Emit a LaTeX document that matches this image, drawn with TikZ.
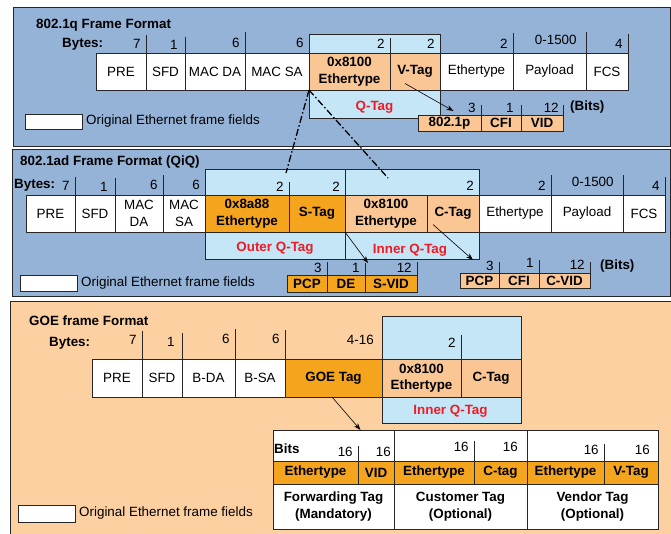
\documentclass[tikz,border=0pt]{standalone}
\usepackage{fontspec}
\setmainfont{Liberation Sans}
\usepackage{tikz}
\usetikzlibrary{arrows.meta, positioning}
\definecolor{pblue}{RGB}{149,179,215}
\definecolor{ppeach}{RGB}{252,208,160}
\definecolor{tagblue}{RGB}{197,230,247}
\definecolor{lorange}{RGB}{250,199,148}
\definecolor{dorange}{RGB}{244,164,29}
\definecolor{qred}{RGB}{237,28,36}
\newcommand{\figfont}{\fontsize{13.4}{16.5}\selectfont}

\begin{document}
\begin{tikzpicture}[x=1pt, y=-1pt,
  panel/.style={draw=black!85, line width=0.8pt},
  fld/.style={
    draw=black!85, line width=0.7pt, fill=white,
    minimum height=37pt, inner sep=0pt, outer sep=0pt,
    font=\figfont, align=center
  },
  bfld/.style={fld, font=\figfont\bfseries},
  lt/.style={bfld, fill=lorange},
  dk/.style={bfld, fill=dorange},
  qbox/.style={draw=black!85, line width=0.7pt, fill=tagblue,
    inner sep=0pt, outer sep=0pt, anchor=north west},
  qlab/.style={font=\figfont\bfseries, text=qred},
  num/.style={font=\figfont, anchor=east, inner xsep=5pt, inner ysep=2pt},
  tick/.style={draw=black!85, line width=0.7pt},
  ttl/.style={font=\figfont\bfseries, anchor=west, inner sep=0pt},
  legbox/.style={fld, minimum width=57pt, minimum height=16pt, anchor=north west},
  legtxt/.style={font=\figfont, inner sep=1pt, right=3pt of #1},
  arr/.style={-{Stealth[length=7pt, width=5pt]}, line width=0.6pt},
  dd/.style={line width=1.3pt, dash pattern=on 7pt off 2.5pt on 1.5pt off 2.5pt}
]
  \useasboundingbox (0,0) rectangle (671,533);

  % panels
  \filldraw[panel, fill=pblue] (13,7) rectangle (670,146);
  \filldraw[panel, fill=pblue] (12,149) rectangle (670,296);
  \filldraw[panel, fill=ppeach] (10,301) rectangle (673,536);

  %% 802.1q
  \node[ttl] (t1) at (36,25) {802.1q Frame Format};
  \node[ttl] (b1) at (62,44) {Bytes:};
  \node[qbox, minimum width=131pt, minimum height=84pt] (qb1) at (309,34) {};
  \node[qlab] (ql1) at ([shift={(0,-11)}]qb1.south) {Q-Tag};

  \node[fld, anchor=north west, minimum width=50pt] (pre1) at (96,53) {PRE};
  \node[fld, minimum width=39pt, right=0pt of pre1] (sfd1) {SFD};
  \node[fld, minimum width=60pt, right=0pt of sfd1] (mda1) {MAC DA};
  \node[fld, minimum width=64pt, right=0pt of mda1] (msa1) {MAC SA};
  \node[lt, minimum width=81pt, right=0pt of msa1] (qet1) {0x8100\\Ethertype};
  \node[lt, minimum width=50pt, right=0pt of qet1] (vtag1) {V-Tag};
  \node[fld, minimum width=73pt, right=0pt of vtag1] (et1) {Ethertype};
  \node[fld, minimum width=73pt, right=0pt of et1] (pay1) {Payload};
  \node[fld, minimum width=42pt, right=0pt of pay1] (fcs1) {FCS};

  \draw[tick] (pre1.north east) -- ++(0,-18) node[num] at ([shift={(0,-9)}]pre1.north east) {7};
  \draw[tick] (sfd1.north east) -- ++(0,-16) node[num] at ([shift={(-2,-8)}]sfd1.north east) {1};
  \draw[tick] (mda1.north east) -- ++(0,-21) node[num] at ([shift={(0,-10)}]mda1.north east) {6};
  \draw[tick] (msa1.north east) -- ++(0,-19) node[num] at ([shift={(0,-10)}]msa1.north east) {6};
  \draw[tick] (qet1.north east) -- ++(0,-15) node[num] at ([shift={(0,-9)}]qet1.north east) {2};
  \draw[tick] (vtag1.north east) -- ++(0,-19) node[num] at ([shift={(0,-9)}]vtag1.north east) {2};
  \draw[tick] (et1.north east) -- ++(0,-20) node[num] at ([shift={(0,-9)}]et1.north east) {2};
  \draw[tick] (pay1.north east) -- ++(0,-21) node[num] at ([shift={(-4,-13)}]pay1.north east) {0-1500};
  \draw[tick] (fcs1.north east) -- ++(0,-19) node[num] at ([shift={(0,-9)}]fcs1.north east) {4};

  \node[lt, anchor=north west, minimum width=63pt, minimum height=16pt] (pri1) at (418,115) {802.1p};
  \node[lt, minimum width=40pt, minimum height=16pt, right=0pt of pri1] (cfi1) {CFI};
  \node[lt, minimum width=42pt, minimum height=16pt, right=0pt of cfi1] (vid1) {VID};
  \draw[tick] (pri1.north east) -- ++(0,-10) node[num] at ([shift={(0,-7)}]pri1.north east) {3};
  \draw[tick] (cfi1.north east) -- ++(0,-10) node[num] at ([shift={(-2,-7)}]cfi1.north east) {1};
  \draw[tick] (vid1.north east) -- ++(0,-10) node[num] at ([shift={(1,-7)}]vid1.north east) {12};
  \node[ttl] (bu1) at ([shift={(7,-8)}]vid1.north east) {(Bits)};

  \draw[arr] ([shift={(-10,12)}]vtag1.center) -- ([shift={(4,-4)}]pri1.north);

  \node[legbox, minimum height=15pt] (leg1) at (25,114) {};
  \node[legtxt=leg1] (lt1) {Original Ethernet frame fields};

  %% 802.1ad
  \node[ttl] (t2) at (20,162) {802.1ad Frame Format (QiQ)};
  \node[ttl] (b2) at (14,185) {Bytes:};
  \node[qbox, minimum width=140pt, minimum height=90pt] (oq2) at (205,169) {};
  \node[qbox, minimum width=134pt, minimum height=90pt] (iq2) at (345,169) {};
  \node[qlab] (oql2) at ([shift={(0,-11)}]oq2.south) {Outer Q-Tag};
  \node[qlab] (iql2) at ([shift={(-2,-9)}]iq2.south) {Inner Q-Tag};

  \node[fld, anchor=north west, minimum width=49pt] (pre2) at (26,195) {PRE};
  \node[fld, minimum width=40pt, right=0pt of pre2] (sfd2) {SFD};
  \node[fld, minimum width=48pt, right=0pt of sfd2] (mda2) {MAC\\DA};
  \node[fld, minimum width=42pt, right=0pt of mda2] (msa2) {MAC\\SA};
  \node[dk, minimum width=84pt, right=0pt of msa2] (set2) {0x8a88\\Ethertype};
  \node[dk, minimum width=56pt, right=0pt of set2] (stag2) {S-Tag};
  \node[lt, minimum width=82pt, right=0pt of stag2] (cet2) {0x8100\\Ethertype};
  \node[lt, minimum width=52pt, right=0pt of cet2] (ctag2) {C-Tag};
  \node[fld, minimum width=72pt, right=0pt of ctag2] (et2) {Ethertype};
  \node[fld, minimum width=72pt, right=0pt of et2] (pay2) {Payload};
  \node[fld, minimum width=42pt, right=0pt of pay2] (fcs2) {FCS};

  \draw[tick] (pre2.north east) -- ++(0,-18) node[num] at ([shift={(0,-9)}]pre2.north east) {7};
  \draw[tick] (sfd2.north east) -- ++(0,-17) node[num] at ([shift={(-2,-8)}]sfd2.north east) {1};
  \draw[tick] (mda2.north east) -- ++(0,-20) node[num] at ([shift={(0,-10)}]mda2.north east) {6};
  \node[num] (n6b) at ([shift={(0,-10)}]msa2.north east) {6};
  \draw[tick] (set2.north east) -- ++(0,-13) node[num] at ([shift={(0,-8)}]set2.north east) {2};
  \node[num] (n2s) at ([shift={(0,-8)}]stag2.north east) {2};
  \node[num] (n2c) at ([shift={(0,-9)}]ctag2.north east) {2};
  \draw[tick] (et2.north east) -- ++(0,-20) node[num] at ([shift={(0,-9)}]et2.north east) {2};
  \draw[tick] (pay2.north east) -- ++(0,-20) node[num] at ([shift={(-4,-13)}]pay2.north east) {0-1500};
  \draw[tick] (fcs2.north east) -- ++(0,-18) node[num] at ([shift={(0,-9)}]fcs2.north east) {4};

  \node[dk, anchor=north west, minimum width=40pt, minimum height=17pt] (spcp2) at (287,275) {PCP};
  \node[dk, minimum width=38pt, minimum height=17pt, right=0pt of spcp2] (sde2) {DE};
  \node[dk, minimum width=52pt, minimum height=17pt, right=0pt of sde2] (svid2) {S-VID};
  \draw[tick] (spcp2.north east) -- ++(0,-13) node[num] at ([shift={(0,-7)}]spcp2.north east) {3};
  \draw[tick] (sde2.north east) -- ++(0,-12) node[num] at ([shift={(0,-7)}]sde2.north east) {1};
  \draw[tick] (svid2.north east) -- ++(0,-13) node[num] at ([shift={(0,-7)}]svid2.north east) {12};

  \node[lt, anchor=north west, minimum width=39pt, minimum height=15pt] (cpcp2) at (460,273) {PCP};
  \node[lt, minimum width=40pt, minimum height=15pt, right=0pt of cpcp2] (ccfi2) {CFI};
  \node[lt, minimum width=51pt, minimum height=15pt, right=0pt of ccfi2] (cvid2) {C-VID};
  \draw[tick] (cpcp2.north east) -- ++(0,-11) node[num] at ([shift={(0,-7)}]cpcp2.north east) {3};
  \draw[tick] (ccfi2.north east) -- ++(0,-13) node[num] at ([shift={(0,-10)}]ccfi2.north east) {1};
  \draw[tick] (cvid2.north east) -- ++(0,-11) node[num] at ([shift={(0,-8)}]cvid2.north east) {12};
  \node[ttl] (bu2) at ([shift={(10,-7)}]cvid2.north east) {(Bits)};

  \draw[arr] (stag2.south east) -- ([shift={(3,-12)}]svid2.north west);
  \draw[arr] ([shift={(-20,11)}]ctag2.center) -- ([shift={(-26,-13)}]cpcp2.north east);

  \node[legbox] (leg2) at (20,275) {};
  \node[legtxt=leg2] (lt2) {Original Ethernet frame fields};

  %% GOE
  \node[ttl] (t3) at (29,321) {GOE frame Format};
  \node[ttl] (b3) at (49,343) {Bytes:};
  \node[qbox, minimum width=139pt, minimum height=107pt] (iq3) at (382,316) {};
  \node[qlab] (iql3) at ([shift={(-1,-12)}]iq3.south) {Inner Q-Tag};

  \node[fld, anchor=north west, minimum width=50pt, minimum height=38pt] (pre3) at (92,359) {PRE};
  \node[fld, minimum width=40pt, minimum height=38pt, right=0pt of pre3] (sfd3) {SFD};
  \node[fld, minimum width=53pt, minimum height=38pt, right=0pt of sfd3] (bda3) {B-DA};
  \node[fld, minimum width=50pt, minimum height=38pt, right=0pt of bda3] (bsa3) {B-SA};
  \node[dk, minimum width=97pt, minimum height=38pt, right=0pt of bsa3] (goe3) {GOE Tag};
  \node[lt, minimum width=79pt, minimum height=38pt, right=0pt of goe3] (cet3) {0x8100\\Ethertype};
  \node[lt, minimum width=60pt, minimum height=38pt, right=0pt of cet3] (ctag3) {C-Tag};

  \draw[tick] (pre3.north east) -- ++(0,-28) node[num] at ([shift={(0,-19)}]pre3.north east) {7};
  \draw[tick] (sfd3.north east) -- ++(0,-26) node[num] at ([shift={(-2,-17)}]sfd3.north east) {1};
  \draw[tick] (bda3.north east) -- ++(0,-30) node[num] at ([shift={(0,-20)}]bda3.north east) {6};
  \draw[tick] (bsa3.north east) -- ++(0,-29) node[num] at ([shift={(0,-20)}]bsa3.north east) {6};
  \node[num] (n416) at ([shift={(-3,-19)}]goe3.north east) {4-16};
  \draw[tick] (cet3.north east) -- ++(0,-24) node[num] at ([shift={(0,-16)}]cet3.north east) {2};

  % GOE tag table
  \node[fld, anchor=north west, minimum width=121pt, minimum height=31pt] (fhd) at (273,430) {};
  \node[fld, minimum width=133pt, minimum height=31pt, right=0pt of fhd] (chd) {};
  \node[fld, minimum width=131pt, minimum height=31pt, right=0pt of chd] (vhd) {};
  \node[dk, anchor=north west, minimum width=85pt, minimum height=23pt] (fet) at (fhd.south west) {Ethertype};
  \node[dk, minimum width=36pt, minimum height=23pt, right=0pt of fet] (fvid) {VID};
  \node[dk, minimum width=80pt, minimum height=23pt, right=0pt of fvid] (cet) {Ethertype};
  \node[dk, minimum width=53pt, minimum height=23pt, right=0pt of cet] (cct) {C-tag};
  \node[dk, minimum width=77pt, minimum height=23pt, right=0pt of cct] (vet) {Ethertype};
  \node[dk, minimum width=54pt, minimum height=23pt, right=0pt of vet] (vvt) {V-Tag};
  \node[bfld, anchor=north west, minimum width=121pt, minimum height=45pt] (fwd) at (fet.south west) {Forwarding Tag\\(Mandatory)};
  \node[bfld, minimum width=133pt, minimum height=45pt, right=0pt of fwd] (cus) {Customer Tag\\(Optional)};
  \node[bfld, minimum width=131pt, minimum height=45pt, right=0pt of cus] (ven) {Vendor Tag\\(Optional)};

  \node[ttl] (bits3) at ([shift={(1,3)}]fhd.west) {Bits};
  \draw[tick] (fet.north east) -- ++(0,-15) node[num] at ([shift={(0,-9)}]fet.north east) {16};
  \node[num] (n16b) at ([shift={(2,-9)}]fvid.north east) {16};
  \draw[tick] (cet.north east) -- ++(0,-20) node[num] at ([shift={(0,-14)}]cet.north east) {16};
  \node[num] (n16d) at ([shift={(-4,-14)}]cct.north east) {16};
  \draw[tick] (vet.north east) -- ++(0,-17) node[num] at ([shift={(0,-11)}]vet.north east) {16};
  \node[num] (n16f) at ([shift={(-3,-11)}]vvt.north east) {16};

  \draw[arr] ([shift={(-1.5,0)}]goe3.south) -- ([shift={(27,0)}]fhd.north);

  \node[legbox, minimum height=17pt] (leg3) at (18,505) {};
  \node[legtxt=leg3] (lt3) {Original Ethernet frame fields};

  % dash-dot guides
  \coordinate (dA) at (286,173);
  \coordinate (dB) at (388,178);
  \draw[dd] (qet1.south west) -- (dA);
  \draw[dd] (qet1.south west) -- (dB);
\end{tikzpicture}
\end{document}
